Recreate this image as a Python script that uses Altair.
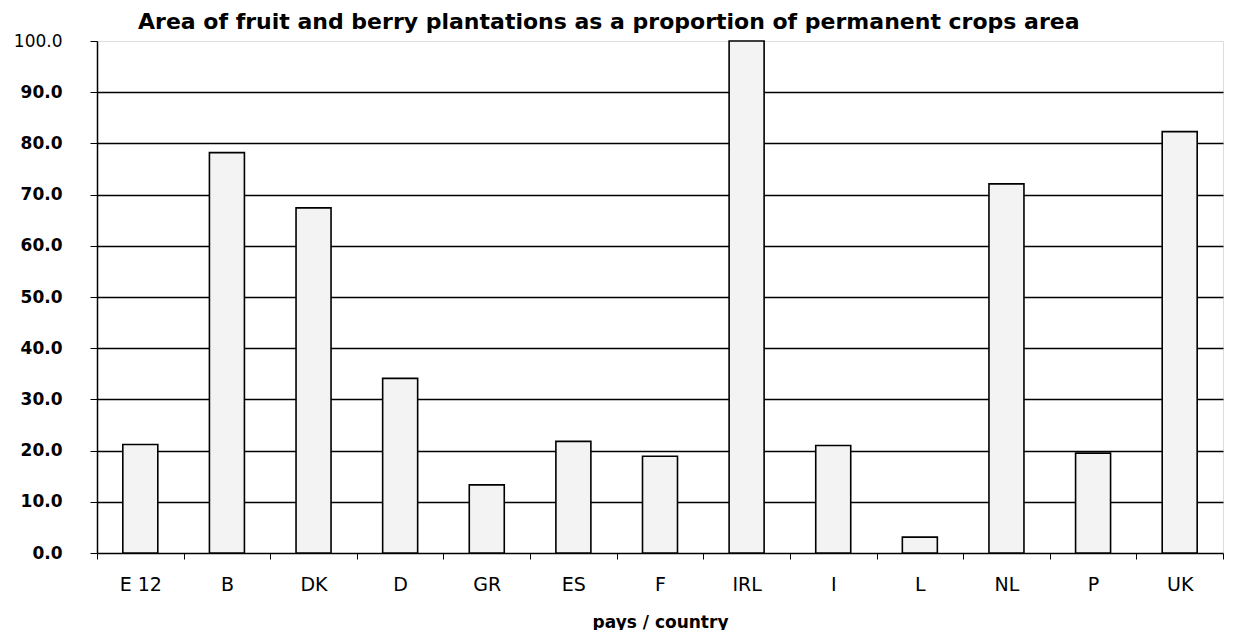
import altair as alt
import pandas as pd

countries = ["E 12", "B", "DK", "D", "GR", "ES", "F", "IRL", "I", "L", "NL", "P", "UK"]
shares = [21.2, 78.2, 67.4, 34.1, 13.3, 21.8, 18.9, 100.0, 21.0, 3.1, 72.1, 19.5, 82.3]
y_ticks = [0, 10, 20, 30, 40, 50, 60, 70, 80, 90, 100]

df = pd.DataFrame({"country": countries, "share": shares})

FONT = "DejaVu Sans"

bars = alt.Chart(df).mark_bar(
    fill="#f3f3f3", stroke="black", strokeWidth=1.6, size=35, clip=False
).encode(
    x=alt.X(
        "country:N", sort=countries, title="pays / country",
        scale=alt.Scale(paddingInner=0, paddingOuter=0),
        axis=alt.Axis(
            labelAngle=0, labelFont=FONT, labelFontSize=19, labelColor="black",
            labelPadding=16, tickBand="extent", tickColor="black", tickSize=6,
            domainColor="black", domainWidth=1.5,
            titleFont=FONT, titleFontSize=17, titleFontWeight="bold",
            titleColor="black", titlePadding=20,
        ),
    ),
    y=alt.Y(
        "share:Q", title=None,
        scale=alt.Scale(domain=[0, 100], nice=False),
        axis=alt.Axis(
            values=y_ticks, format=".1f", labelFont=FONT, labelFontSize=17,
            labelFontWeight=alt.condition("datum.value == 100", alt.value("normal"), alt.value("bold")),
            labelColor="black", labelPadding=28, tickColor="black", tickSize=7,
            domainColor="black", domainWidth=1.5,
            grid=True,
            gridColor=alt.condition("datum.value == 100 || datum.value == 0", alt.value("transparent"), alt.value("black")),
            gridWidth=1.3,
        ),
    ),
)

chart = bars.properties(
    width=1126, height=512,
    title=alt.TitleParams(
        "Area of fruit and berry plantations as a proportion of permanent crops area",
        font=FONT, fontSize=22, fontWeight="bold", color="black",
        anchor="start", frame="group", dx=41, offset=-2,
    ),
    padding={"left": 5, "top": 3, "right": 0, "bottom": 0},
).configure_view(stroke=None).configure(background="white")

chart.save("out.html", embed_options={"renderer": "svg", "actions": False})
